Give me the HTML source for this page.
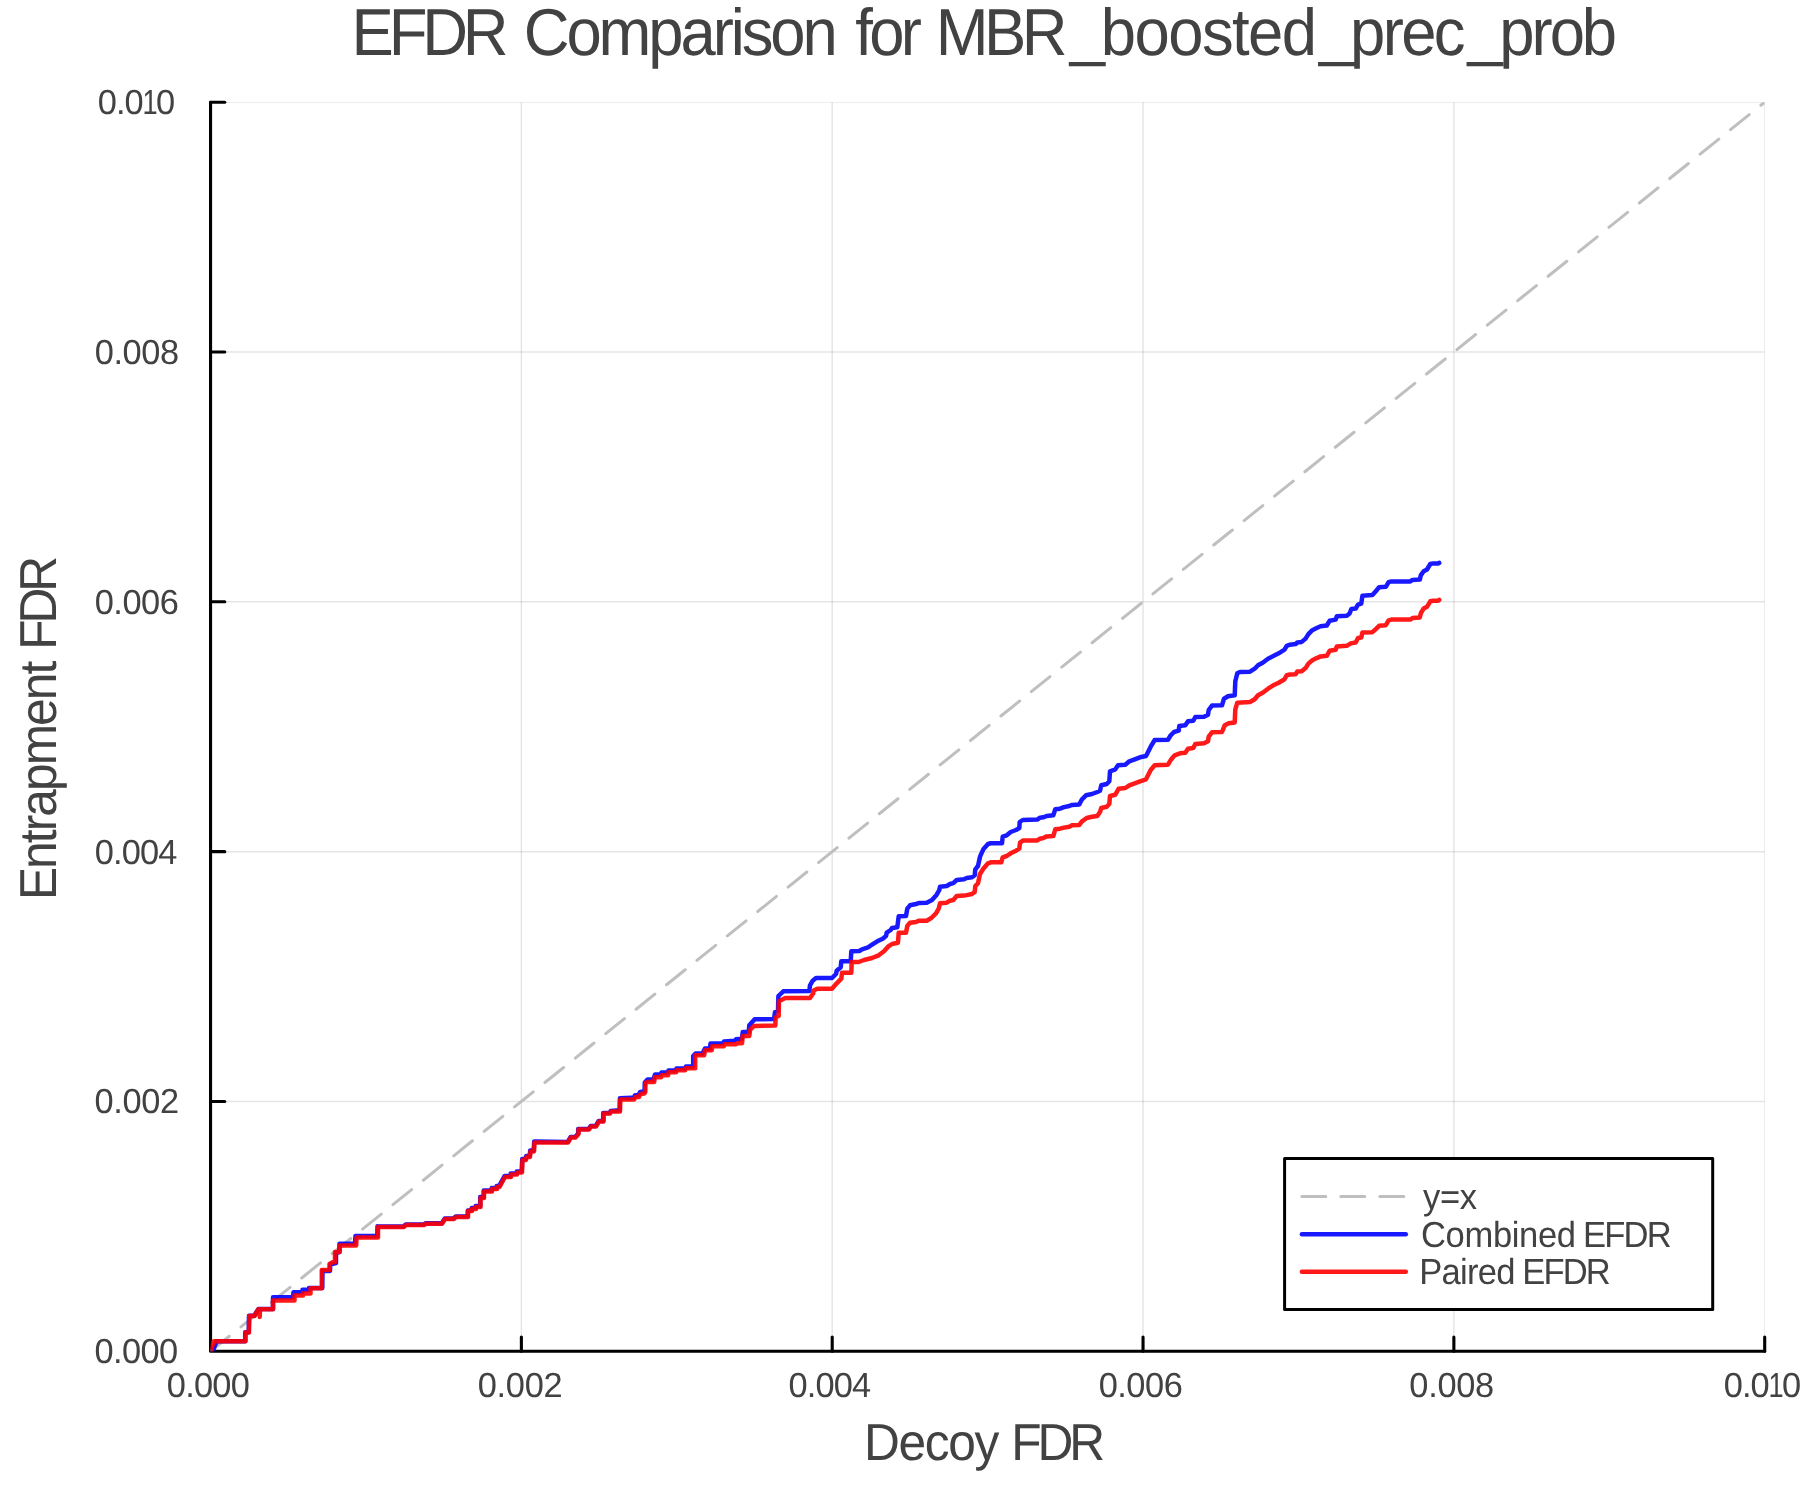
<!DOCTYPE html>
<html lang="en"><head><meta charset="utf-8"><title>EFDR Comparison for MBR_boosted_prec_prob</title>
<style>html,body{margin:0;padding:0;background:#fff;overflow:hidden;}svg{display:block;will-change:transform;}text{font-family:"Liberation Sans",Arial,Helvetica,sans-serif;fill:#424242;white-space:pre;text-rendering:geometricPrecision;}</style></head><body>
<svg width="1800" height="1500" viewBox="0 0 1800 1500">
<defs><clipPath id="plotclip"><rect x="210.55" y="102.20" width="1554.15" height="1249.05"/></clipPath></defs>
<rect x="0" y="0" width="1800" height="1500" fill="#ffffff"/>
<g stroke="#000000" stroke-opacity="0.1" stroke-width="1.5" fill="none" clip-path="url(#plotclip)">
<line x1="521.38" y1="1351.25" x2="521.38" y2="102.20"/>
<line x1="832.21" y1="1351.25" x2="832.21" y2="102.20"/>
<line x1="1143.04" y1="1351.25" x2="1143.04" y2="102.20"/>
<line x1="1453.87" y1="1351.25" x2="1453.87" y2="102.20"/>
<line x1="1764.70" y1="1351.25" x2="1764.70" y2="102.20"/>
<line x1="210.55" y1="1101.44" x2="1764.70" y2="1101.44"/>
<line x1="210.55" y1="851.63" x2="1764.70" y2="851.63"/>
<line x1="210.55" y1="601.82" x2="1764.70" y2="601.82"/>
<line x1="210.55" y1="352.01" x2="1764.70" y2="352.01"/>
<line x1="210.55" y1="102.20" x2="1764.70" y2="102.20"/>
</g>
<g stroke="#000" stroke-width="3.1" fill="none" stroke-linecap="round" stroke-linejoin="round">
<path d="M210.55 102.20 L210.55 1351.25 L1764.70 1351.25"/>
<line x1="521.38" y1="1351.25" x2="521.38" y2="1337.05"/>
<line x1="210.55" y1="1101.44" x2="224.75" y2="1101.44"/>
<line x1="832.21" y1="1351.25" x2="832.21" y2="1337.05"/>
<line x1="210.55" y1="851.63" x2="224.75" y2="851.63"/>
<line x1="1143.04" y1="1351.25" x2="1143.04" y2="1337.05"/>
<line x1="210.55" y1="601.82" x2="224.75" y2="601.82"/>
<line x1="1453.87" y1="1351.25" x2="1453.87" y2="1337.05"/>
<line x1="210.55" y1="352.01" x2="224.75" y2="352.01"/>
<line x1="1764.70" y1="1351.25" x2="1764.70" y2="1337.05"/>
<line x1="210.55" y1="102.20" x2="224.75" y2="102.20"/>
</g>
<g clip-path="url(#plotclip)" fill="none">
<line x1="210.55" y1="1351.25" x2="1764.70" y2="102.20" stroke="#bfbfbf" stroke-width="3" stroke-dasharray="24 15" stroke-linecap="round"/>
<path d="M212.6 1351.7 L216.6 1341.3 L245.2 1341.3 L245.2 1332.3 L248.7 1332.3 L249.0 1315.8 L254.2 1315.8 L256.0 1312.8 L258.5 1309.0 L273.0 1309.0 L273.0 1297.2 L293.0 1297.2 L293.5 1292.2 L302.5 1292.2 L302.5 1289.7 L309.0 1289.7 L309.0 1288.0 L322.3 1288.0 L322.5 1271.0 L330.0 1271.0 L330.3 1264.5 L336.0 1263.0 L336.0 1253.0 L339.5 1252.0 L339.5 1243.7 L355.0 1243.7 L355.5 1236.0 L377.3 1236.0 L377.5 1226.3 L377.8 1226.4 L403.8 1226.4 L405.8 1224.4 L423.8 1224.4 L425.8 1223.2 L441.8 1223.2 L444.8 1218.4 L453.8 1218.4 L455.8 1216.4 L467.8 1216.4 L467.8 1210.4 L471.7 1209.9 L471.7 1207.9 L475.7 1207.9 L475.7 1205.9 L480.2 1205.9 L480.2 1196.9 L483.7 1196.9 L483.7 1190.4 L491.7 1190.4 L491.7 1187.9 L496.7 1187.9 L496.7 1185.9 L499.2 1185.9 L504.7 1175.9 L510.7 1175.9 L510.7 1173.4 L516.7 1173.4 L516.7 1171.4 L521.7 1171.4 L522.2 1158.9 L525.7 1158.9 L526.2 1155.9 L529.7 1155.9 L530.2 1150.4 L533.7 1150.4 L534.2 1141.4 L567.7 1141.9 L570.7 1136.9 L575.2 1136.9 L578.2 1133.4 L578.2 1128.9 L588.7 1128.9 L590.7 1125.9 L595.7 1125.9 L598.7 1120.9 L603.2 1120.9 L603.2 1112.9 L609.7 1112.9 L610.7 1110.9 L619.6 1110.2 L619.9 1098.2 L631.6 1097.8 L633.6 1097.8 L635.1 1095.2 L638.6 1095.1 L640.1 1092.1 L644.1 1091.5 L644.6 1090.5 L644.8 1082.5 L647.5 1079.5 L653.5 1079.5 L655.0 1074.5 L660.5 1074.5 L661.5 1072.5 L667.5 1072.5 L668.5 1070.5 L675.5 1070.5 L676.5 1068.5 L685.0 1068.5 L686.0 1066.5 L693.2 1066.5 L693.2 1056.0 L695.5 1053.5 L702.5 1053.5 L705.0 1048.5 L710.0 1048.5 L710.5 1043.5 L723.0 1043.5 L724.0 1041.5 L734.7 1040.7 L736.0 1039.3 L742.0 1038.7 L742.7 1032.0 L748.7 1032.0 L749.3 1025.3 L754.7 1019.3 L774.0 1019.0 L775.0 1012.0 L778.0 1010.7 L778.4 996.0 L783.3 991.3 L809.3 991.0 L810.0 985.3 L812.7 980.7 L816.0 978.0 L832.0 978.0 L836.0 974.0 L836.7 970.7 L840.7 967.3 L841.3 961.3 L850.7 961.3 L851.3 951.3 L859.3 951.0 L862.0 949.3 L868.0 947.3 L872.0 944.7 L877.3 941.3 L882.7 938.7 L886.0 936.0 L886.7 932.7 L890.7 930.0 L892.0 928.0 L897.3 927.3 L898.7 916.3 L906.0 916.0 L907.3 908.7 L910.0 905.3 L916.0 904.0 L918.7 903.1 L926.7 902.7 L932.0 900.0 L936.7 894.7 L939.3 890.0 L940.0 886.7 L946.7 886.0 L950.0 884.0 L953.3 883.1 L956.7 880.0 L964.0 879.3 L966.7 878.0 L972.0 877.3 L974.7 875.3 L975.3 869.3 L978.0 866.0 L980.0 856.7 L983.3 849.3 L988.0 844.0 L990.7 843.3 L1002.0 843.3 L1002.7 836.7 L1006.7 835.3 L1010.7 832.0 L1016.0 830.0 L1019.3 828.0 L1019.7 822.0 L1022.7 820.0 L1037.3 819.6 L1040.0 817.7 L1043.3 817.3 L1046.7 816.0 L1053.3 815.3 L1055.3 809.3 L1060.0 808.7 L1064.0 807.1 L1069.3 806.0 L1072.0 804.9 L1079.3 804.4 L1082.0 799.3 L1086.0 795.3 L1092.0 794.0 L1097.3 792.0 L1100.0 790.7 L1101.3 785.3 L1106.7 784.0 L1109.3 781.3 L1110.0 771.3 L1115.3 769.3 L1118.0 765.3 L1125.3 764.7 L1129.3 761.3 L1134.7 759.3 L1140.0 757.3 L1146.0 756.0 L1150.7 746.7 L1154.7 740.0 L1168.0 739.7 L1170.7 735.3 L1174.0 732.0 L1178.7 730.7 L1179.3 726.0 L1185.3 725.3 L1188.0 721.3 L1193.3 720.7 L1195.3 717.0 L1204.0 716.7 L1208.0 714.7 L1208.7 710.0 L1212.0 705.6 L1222.0 705.3 L1224.0 698.7 L1228.0 696.3 L1234.7 695.3 L1235.3 681.3 L1237.3 673.3 L1240.0 672.0 L1250.0 671.7 L1254.7 668.7 L1258.0 665.3 L1262.7 662.7 L1268.0 658.7 L1273.3 656.0 L1278.7 653.3 L1284.5 649.7 L1286.7 645.8 L1290.0 644.7 L1295.6 644.1 L1297.3 642.5 L1301.7 641.9 L1305.6 638.6 L1308.4 634.1 L1312.3 630.2 L1316.7 628.0 L1320.6 626.3 L1326.8 625.5 L1329.6 620.8 L1335.7 619.6 L1336.8 616.3 L1346.8 615.7 L1349.6 613.5 L1351.3 609.1 L1355.7 608.5 L1358.0 604.6 L1361.3 603.5 L1362.4 595.7 L1372.4 595.1 L1375.8 591.2 L1379.1 587.3 L1385.8 586.8 L1388.6 582.1 L1391.4 581.4 L1410.3 581.4 L1412.5 579.9 L1419.8 579.6 L1420.9 575.1 L1423.7 571.2 L1427.0 569.5 L1430.3 564.0 L1433.1 563.4 L1438.1 563.4 L1439.2 562.9" stroke="#0000ff" stroke-opacity="0.9" stroke-width="4.5" stroke-linejoin="round" stroke-linecap="round"/>
<path d="M210.6 1351.7 L213.8 1341.2 L245.5 1341.2 L245.5 1332.5 L249.0 1332.5 L249.3 1316.0 L254.5 1316.0 L256.0 1313.0 L258.5 1309.3 L259.5 1309.3 L259.7 1317.0 L260.0 1309.3 L273.0 1309.3 L273.0 1300.5 L294.5 1300.5 L294.5 1295.5 L303.0 1295.5 L303.0 1293.5 L310.5 1293.5 L310.5 1288.2 L321.8 1288.2 L321.8 1270.0 L329.5 1270.0 L329.5 1264.0 L333.0 1262.0 L335.0 1262.0 L335.0 1252.0 L339.5 1252.0 L339.5 1245.5 L356.2 1245.5 L356.5 1237.5 L378.0 1237.5 L378.0 1227.0 L404.0 1227.0 L406.0 1225.0 L424.0 1225.0 L426.0 1223.8 L442.0 1223.8 L445.0 1219.0 L454.0 1219.0 L456.0 1217.0 L468.0 1217.0 L468.0 1211.0 L472.0 1211.0 L472.0 1209.0 L476.0 1209.0 L476.0 1207.0 L480.5 1207.0 L480.5 1198.0 L484.0 1198.0 L484.0 1191.5 L492.0 1191.5 L492.0 1189.0 L497.0 1189.0 L497.0 1187.0 L499.5 1187.0 L505.0 1177.0 L511.0 1177.0 L511.0 1174.5 L517.0 1174.5 L517.0 1172.5 L522.0 1172.5 L522.5 1160.0 L526.0 1160.0 L526.5 1157.0 L530.0 1157.0 L530.5 1151.5 L534.0 1151.5 L534.5 1142.5 L568.0 1142.5 L571.0 1137.5 L575.5 1137.5 L578.5 1134.0 L578.5 1129.5 L589.0 1129.5 L591.0 1126.5 L596.0 1126.5 L599.0 1121.5 L603.5 1121.5 L603.5 1113.5 L610.0 1113.5 L611.0 1111.5 L620.0 1111.5 L620.3 1099.5 L632.0 1099.5 L634.0 1099.5 L635.5 1097.0 L639.0 1097.0 L640.5 1094.0 L644.5 1093.5 L645.3 1092.0 L645.5 1083.0 L647.5 1082.0 L654.2 1082.0 L654.8 1077.2 L661.2 1077.2 L661.5 1075.2 L668.2 1075.2 L668.5 1072.2 L676.2 1072.2 L676.5 1070.2 L685.2 1070.2 L685.5 1068.2 L695.2 1068.2 L695.2 1055.2 L704.2 1055.2 L705.0 1050.2 L711.8 1050.2 L712.2 1046.2 L723.8 1046.2 L724.5 1044.2 L736.0 1044.2 L737.3 1043.3 L742.0 1043.3 L742.7 1036.0 L749.3 1036.0 L750.0 1030.0 L754.0 1026.0 L775.3 1025.6 L775.7 1017.3 L778.7 1016.0 L778.9 1001.3 L785.3 998.0 L810.0 998.0 L813.3 993.3 L813.3 990.7 L817.3 988.7 L832.0 988.7 L836.7 983.3 L841.3 978.7 L842.0 972.7 L851.3 972.7 L851.7 962.0 L858.7 962.0 L864.0 960.0 L872.0 958.0 L878.7 955.3 L884.0 951.3 L888.0 946.7 L892.0 944.0 L898.0 942.7 L898.7 932.7 L906.0 932.7 L907.3 926.0 L910.0 922.7 L916.0 922.0 L918.7 920.7 L926.7 920.7 L931.3 918.0 L936.0 913.3 L938.7 908.7 L940.0 903.3 L946.7 902.7 L950.0 900.7 L953.3 900.0 L956.7 896.0 L964.0 895.6 L966.7 895.1 L972.0 894.0 L974.7 892.0 L975.3 886.0 L978.0 883.3 L980.0 874.0 L983.3 868.7 L988.0 863.3 L990.7 862.3 L1001.3 862.3 L1002.7 857.3 L1006.7 856.0 L1010.7 853.3 L1016.0 850.7 L1019.3 848.7 L1020.0 842.7 L1023.3 840.4 L1037.3 840.4 L1040.0 838.7 L1043.3 838.0 L1046.7 836.4 L1053.3 836.0 L1055.3 829.3 L1060.0 828.7 L1064.0 827.6 L1069.3 826.7 L1072.0 825.3 L1079.3 824.9 L1082.0 821.3 L1086.7 818.0 L1092.0 816.7 L1097.3 816.0 L1100.0 812.0 L1101.3 808.0 L1106.7 806.7 L1109.3 804.0 L1110.0 796.0 L1115.3 794.7 L1118.7 788.7 L1125.3 788.0 L1129.3 785.3 L1134.7 783.3 L1140.0 781.3 L1146.0 779.3 L1150.7 770.0 L1154.7 765.3 L1168.0 764.7 L1170.7 760.0 L1174.7 755.3 L1180.0 753.3 L1185.3 752.7 L1188.0 748.7 L1193.3 748.0 L1195.3 744.0 L1204.0 743.3 L1208.0 741.3 L1208.7 736.7 L1212.0 732.3 L1222.0 732.0 L1224.7 725.3 L1228.7 723.3 L1234.7 722.4 L1235.3 709.3 L1237.3 702.7 L1250.0 702.0 L1254.7 699.3 L1258.0 695.3 L1262.7 692.7 L1268.0 688.7 L1273.3 685.3 L1278.7 682.7 L1284.5 679.2 L1286.7 675.3 L1290.0 674.5 L1295.6 674.2 L1297.3 671.6 L1301.7 671.2 L1305.6 668.1 L1308.4 663.6 L1312.3 660.3 L1316.7 658.1 L1320.6 656.4 L1326.8 655.8 L1329.6 650.8 L1335.7 649.7 L1336.8 646.4 L1346.8 645.8 L1350.7 643.4 L1355.7 642.5 L1358.0 638.0 L1361.3 637.5 L1362.4 632.4 L1372.4 632.2 L1375.8 629.1 L1379.1 625.8 L1385.8 625.2 L1388.6 620.4 L1391.4 619.6 L1410.3 619.6 L1412.5 618.0 L1419.8 617.4 L1420.9 613.0 L1423.7 608.5 L1427.0 606.8 L1430.3 601.3 L1433.1 600.7 L1438.1 600.7 L1439.2 599.9" stroke="#ff0000" stroke-opacity="0.9" stroke-width="4.5" stroke-linejoin="round" stroke-linecap="round"/>
</g>
<g>
<text transform="translate(0,1396.70) scale(0.9850,1)" font-size="34.90"><tspan x="169.40" y="0.00" letter-spacing="-0.771">0.000</tspan></text>
<text transform="translate(0,1396.70) scale(0.9850,1)" font-size="34.90"><tspan x="485.03" y="0.00" letter-spacing="-0.293">0.002</tspan></text>
<text transform="translate(0,1396.70) scale(0.9850,1)" font-size="34.90"><tspan x="800.46" y="0.00" letter-spacing="-0.831">0.004</tspan></text>
<text transform="translate(0,1396.70) scale(0.9850,1)" font-size="34.90"><tspan x="1115.39" y="0.00" letter-spacing="-0.475">0.006</tspan></text>
<text transform="translate(0,1396.70) scale(0.9850,1)" font-size="34.90"><tspan x="1430.82" y="0.00" letter-spacing="-0.302">0.008</tspan></text>
<text transform="translate(0,1396.70) scale(0.9850,1)" font-size="34.90"><tspan x="1750.11" y="0.00" letter-spacing="-0.991">0.0</tspan><tspan x="1795.36" y="0.00" textLength="15.370" lengthAdjust="spacingAndGlyphs">1</tspan><tspan x="1809.09" y="0.00" letter-spacing="0.000">0</tspan></text>
<text transform="translate(0,1363.25) scale(0.9850,1)" font-size="34.90"><tspan x="96.00" y="0.00" letter-spacing="-0.619">0.000</tspan></text>
<text transform="translate(0,1113.44) scale(0.9850,1)" font-size="34.90"><tspan x="96.00" y="0.00" letter-spacing="-0.344">0.002</tspan></text>
<text transform="translate(0,863.63) scale(0.9850,1)" font-size="34.90"><tspan x="96.10" y="0.00" letter-spacing="-0.857">0.004</tspan></text>
<text transform="translate(0,613.82) scale(0.9850,1)" font-size="34.90"><tspan x="96.10" y="0.00" letter-spacing="-0.475">0.006</tspan></text>
<text transform="translate(0,364.01) scale(0.9850,1)" font-size="34.90"><tspan x="96.10" y="0.00" letter-spacing="-0.378">0.008</tspan></text>
<text transform="translate(0,114.20) scale(0.9850,1)" font-size="34.90"><tspan x="99.35" y="0.00" letter-spacing="-0.991">0.0</tspan><tspan x="144.60" y="0.00" textLength="15.370" lengthAdjust="spacingAndGlyphs">1</tspan><tspan x="158.33" y="0.00" letter-spacing="0.000">0</tspan></text>
</g>
<text transform="translate(0,1459.70) scale(0.9550,1)" font-size="52.00"><tspan x="904.74" y="0.00" letter-spacing="-1.411">Decoy </tspan><tspan x="1058.88" y="0.00" letter-spacing="-4.284">FDR</tspan></text>
<text transform="translate(56,896) rotate(-90) translate(0,0.00) scale(0.9550,1)" font-size="52.00"><tspan x="-4.27" y="0.00" letter-spacing="-2.022">Entrapment </tspan><tspan x="257.93" y="0.00" letter-spacing="-4.389">FDR</tspan></text>
<text transform="translate(0,54.90) scale(0.9550,1)" font-size="66.40"><tspan x="368.17" y="0.00" letter-spacing="-5.471">EFDR </tspan><tspan x="548.46" y="0.00" letter-spacing="-3.249">Comparison </tspan><tspan x="895.50" y="0.00" letter-spacing="-3.849">for </tspan><tspan x="979.89" y="0.00" letter-spacing="-4.800">MBR</tspan><tspan x="1120.17" y="-1.50" letter-spacing="0.000">_</tspan><tspan x="1152.68" y="0.00" letter-spacing="-1.638">boosted</tspan><tspan x="1381.11" y="-1.50" letter-spacing="0.000">_</tspan><tspan x="1413.73" y="0.00" letter-spacing="-2.791">prec</tspan><tspan x="1536.71" y="-1.50" letter-spacing="0.000">_</tspan><tspan x="1569.96" y="0.00" letter-spacing="-3.165">prob</tspan></text>
<rect x="1284.6" y="1158.6" width="428.1" height="150.9" fill="#ffffff" stroke="#000" stroke-width="3" stroke-linejoin="round"/>
<line x1="1301.8" y1="1196.5" x2="1405.6" y2="1196.5" stroke="#bfbfbf" stroke-width="3" stroke-dasharray="24 15" stroke-linecap="round"/>
<line x1="1301.9" y1="1234.2" x2="1405.8" y2="1234.2" stroke="#0000ff" stroke-opacity="0.9" stroke-width="4.5" stroke-linecap="round"/>
<line x1="1301.9" y1="1271.7" x2="1405.8" y2="1271.7" stroke="#ff0000" stroke-opacity="0.9" stroke-width="4.5" stroke-linecap="round"/>
<text transform="translate(0,1209.00) scale(0.9550,1)" font-size="36.20"><tspan x="1490.17" y="0.00" letter-spacing="-0.421">y=x</tspan></text>
<text transform="translate(0,1246.80) scale(0.9550,1)" font-size="36.20"><tspan x="1487.95" y="0.00" letter-spacing="-0.366">Combined </tspan><tspan x="1657.55" y="0.00" letter-spacing="-1.839">EFDR</tspan></text>
<text transform="translate(0,1284.00) scale(0.9550,1)" font-size="36.20"><tspan x="1486.04" y="0.00" letter-spacing="-0.768">Paired </tspan><tspan x="1594.10" y="0.00" letter-spacing="-1.979">EFDR</tspan></text>
</svg></body></html>
